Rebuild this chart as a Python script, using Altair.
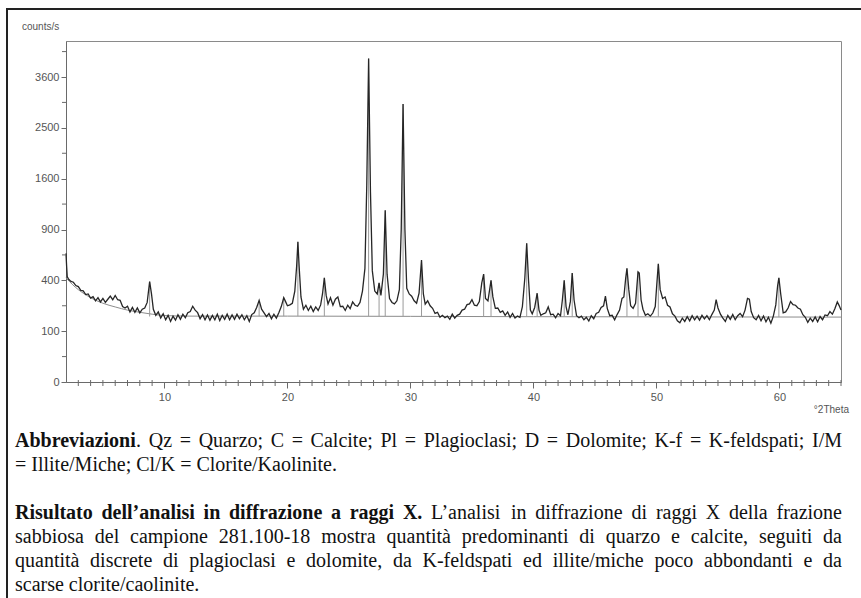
import altair as alt
import pandas as pd

# ---------------- data ----------------
two_theta = [
    2.00, 2.05, 2.10, 2.20, 2.40, 2.60, 2.80, 3.00, 3.20, 3.40,
    3.60, 3.80, 4.00, 4.20, 4.40, 4.60, 4.80, 5.00, 5.20, 5.40,
    5.60, 5.80, 6.00, 6.20, 6.40, 6.60, 6.80, 7.00, 7.20, 7.40,
    7.60, 7.80, 8.00, 8.20, 8.40, 8.60, 8.80, 8.95, 9.10, 9.30,
    9.50, 9.70, 9.90, 10.10, 10.30, 10.50, 10.70, 10.90, 11.10, 11.30,
    11.50, 11.70, 11.90, 12.10, 12.30, 12.50, 12.70, 12.90, 13.10, 13.30,
    13.50, 13.70, 13.90, 14.10, 14.30, 14.50, 14.70, 14.90, 15.10, 15.30,
    15.50, 15.70, 15.90, 16.10, 16.30, 16.50, 16.70, 16.90, 17.10, 17.30,
    17.50, 17.70, 17.90, 18.10, 18.30, 18.50, 18.70, 18.90, 19.10, 19.30,
    19.50, 19.70, 19.85, 20.00, 20.20, 20.40, 20.60, 20.75, 20.85, 20.95,
    21.10, 21.30, 21.50, 21.70, 21.90, 22.10, 22.30, 22.50, 22.70, 22.85,
    23.00, 23.15, 23.30, 23.50, 23.70, 23.90, 24.10, 24.30, 24.50, 24.70,
    24.90, 25.10, 25.30, 25.50, 25.70, 25.90, 26.10, 26.30, 26.45, 26.60,
    26.75, 26.90, 27.10, 27.30, 27.45, 27.60, 27.80, 27.95, 28.10, 28.30,
    28.50, 28.70, 28.90, 29.10, 29.25, 29.40, 29.55, 29.70, 29.90, 30.10,
    30.30, 30.50, 30.70, 30.90, 31.05, 31.20, 31.40, 31.60, 31.80, 32.00,
    32.20, 32.40, 32.60, 32.80, 33.00, 33.20, 33.40, 33.60, 33.80, 34.00,
    34.20, 34.40, 34.60, 34.80, 35.00, 35.20, 35.40, 35.60, 35.80, 35.95,
    36.10, 36.30, 36.55, 36.70, 36.90, 37.10, 37.30, 37.50, 37.70, 37.90,
    38.10, 38.30, 38.50, 38.70, 38.90, 39.10, 39.30, 39.45, 39.60, 39.75,
    39.90, 40.10, 40.30, 40.45, 40.60, 40.80, 41.00, 41.20, 41.40, 41.60,
    41.80, 42.00, 42.20, 42.35, 42.50, 42.65, 42.80, 43.00, 43.15, 43.30,
    43.50, 43.70, 43.90, 44.10, 44.30, 44.50, 44.70, 44.90, 45.10, 45.30,
    45.50, 45.70, 45.85, 46.00, 46.20, 46.40, 46.60, 46.80, 47.00, 47.20,
    47.35, 47.50, 47.60, 47.75, 47.90, 48.10, 48.30, 48.50, 48.60, 48.75,
    48.90, 49.10, 49.30, 49.50, 49.70, 49.90, 50.05, 50.15, 50.30, 50.50,
    50.70, 50.90, 51.10, 51.30, 51.50, 51.70, 51.90, 52.10, 52.30, 52.50,
    52.70, 52.90, 53.10, 53.30, 53.50, 53.70, 53.90, 54.10, 54.30, 54.50,
    54.70, 54.85, 55.00, 55.20, 55.40, 55.60, 55.80, 56.00, 56.20, 56.40,
    56.60, 56.80, 57.00, 57.20, 57.40, 57.55, 57.70, 57.90, 58.10, 58.30,
    58.50, 58.70, 58.90, 59.10, 59.30, 59.50, 59.70, 59.85, 59.95, 60.10,
    60.30, 60.50, 60.70, 60.90, 61.10, 61.30, 61.50, 61.70, 61.90, 62.10,
    62.30, 62.50, 62.70, 62.90, 63.10, 63.30, 63.50, 63.70, 63.90, 64.10,
    64.30, 64.50, 64.70, 64.85, 65.00,
]
counts = [
    640, 520, 430, 410, 392, 385, 360, 352, 325, 322,
    296, 300, 272, 282, 255, 275, 248, 270, 245, 265,
    285, 262, 290, 262, 258, 220, 212, 222, 190, 215,
    188, 212, 185, 205, 212, 245, 390, 300, 205, 172,
    190, 158, 180, 150, 172, 142, 168, 148, 175, 152,
    178, 160, 186, 192, 222, 200, 186, 155, 176, 150,
    174, 148, 172, 150, 178, 146, 172, 152, 178, 150,
    174, 152, 178, 155, 175, 150, 170, 142, 176, 185,
    215, 258, 205, 185, 165, 182, 155, 178, 158, 186,
    220, 275, 250, 225, 230, 240, 320, 520, 760, 520,
    280, 205, 228, 198, 222, 192, 218, 198, 230, 300,
    420, 290, 235, 275, 228, 265, 280, 220, 222, 198,
    228, 208, 248, 228, 222, 245, 320, 500, 1500, 4050,
    1400, 480, 320, 300, 380, 290, 450, 1140, 450, 270,
    245, 236, 255, 330, 900, 2990, 900, 340, 300, 285,
    255, 240, 305, 575, 300, 235, 255, 225, 210, 182,
    188, 162, 172, 160, 168, 152, 178, 158, 172, 178,
    200, 205, 232, 236, 262, 228, 225, 250, 380, 450,
    270, 255, 400, 280, 210, 212, 188, 196, 172, 190,
    162, 182, 158, 168, 162, 220, 420, 745, 400, 200,
    180, 215, 305, 200, 172, 180, 185, 218, 175, 178,
    160, 182, 170, 260, 400, 220, 175, 250, 460, 260,
    170, 160, 168, 150, 162, 144, 170, 155, 182, 188,
    215, 225, 285, 210, 170, 172, 150, 176, 200, 270,
    280, 420, 500, 330, 225, 210, 240, 470, 460, 260,
    205, 172, 180, 168, 184, 220, 400, 540, 330, 270,
    280, 228, 218, 180, 168, 145, 136, 158, 142, 165,
    145, 170, 150, 168, 148, 172, 154, 170, 150, 176,
    200, 262, 212, 178, 158, 142, 172, 152, 176, 150,
    170, 182, 165, 200, 270, 265, 192, 160, 150, 172,
    145, 168, 140, 162, 134, 168, 230, 360, 420, 300,
    185, 190, 212, 250, 232, 228, 212, 205, 175, 162,
    138, 158, 142, 164, 140, 166, 150, 174, 170, 192,
    178, 208, 248, 226, 200,
]
assert len(two_theta) == len(counts)

bg_theta = [2.0, 2.5, 3.0, 3.5, 4.0, 5.0, 6.0, 7.0, 8.0, 9.0, 10.0, 12.0, 20.0, 40.0, 65.0]
bg_counts = [420, 370, 330, 300, 275, 240, 218, 200, 188, 178, 171, 168, 168, 165, 163]

stick_theta = [8.80, 17.70, 19.70, 20.85, 23.00, 26.60, 27.45, 27.95, 29.40, 30.90,
               35.95, 36.55, 39.45, 40.30, 42.50, 43.15, 47.60, 48.50, 50.15, 59.95]
stick_counts = [390, 255, 275, 760, 420, 4050, 380, 1140, 2990, 575,
                450, 400, 745, 305, 400, 460, 500, 470, 540, 420]
stick_base = [166, 168, 168, 168, 168, 168, 168, 168, 168, 167,
              166, 166, 166, 166, 165, 165, 165, 165, 165, 163]

x_major = [10, 20, 30, 40, 50, 60]
x_minor = [3, 4, 5, 6, 7, 8, 9, 11, 12, 13, 14, 15, 16, 17, 18, 19, 21, 22, 23, 24, 25,
           26, 27, 28, 29, 31, 32, 33, 34, 35, 36, 37, 38, 39, 41, 42, 43, 44, 45, 46,
           47, 48, 49, 51, 52, 53, 54, 55, 56, 57, 58, 59, 61, 62, 63, 64, 65]
y_major = [0, 100, 400, 900, 1600, 2500, 3600]
y_minor = [25, 225, 625, 1225, 2025, 3025, 4225]

y_label = "counts/s"
x_label = "°2Theta"
caption = [
    ([("Abbreviazioni", True),
      (". Qz = Quarzo; C = Calcite; Pl = Plagioclasi; D = Dolomite; K-f = K-feldspati; I/M", False)], True),
    ([("= Illite/Miche; Cl/K = Clorite/Kaolinite.", False)], False),
    ([("Risultato dell’analisi in diffrazione a raggi X.", True),
      (" L’analisi in diffrazione di raggi X della frazione", False)], True),
    ([("sabbiosa del campione 281.100-18 mostra quantità predominanti di quarzo e calcite, seguiti da", False)], True),
    ([("quantità discrete di plagioclasi e dolomite, da K-feldspati ed illite/miche poco abbondanti e da", False)], True),
    ([("scarse clorite/caolinite.", False)], False),
]
caption_baselines = [447, 471, 519, 543, 567, 591]

# ---------------- layout ----------------
PL, PT, W, H = 66, 41, 775, 341
FS = 20
TXT_L, TXT_R = 15, 842


def _widths(upper, lower, extra):
    d = dict(zip("ABCDEFGHIJKLMNOPQRSTUVWXYZ", upper))
    d.update(zip("abcdefghijklmnopqrstuvwxyz", lower))
    d.update({str(k): 500 for k in range(10)})
    d.update(extra)
    return d


REG = _widths([722, 667, 667, 722, 611, 556, 722, 722, 333, 389, 722, 611, 889, 722, 722, 556, 722, 667, 556, 611, 722, 722, 944, 722, 722, 611],
              [444, 500, 444, 500, 444, 333, 500, 500, 278, 278, 500, 278, 778, 500, 500, 500, 500, 333, 389, 278, 500, 500, 722, 500, 500, 444],
              {' ': 250, ',': 250, '-': 333, '.': 250, '/': 278, ':': 278, ';': 278, '=': 564, '’': 333, 'à': 444})
BOLD = _widths([722, 667, 722, 722, 667, 611, 778, 778, 389, 500, 778, 667, 944, 722, 778, 611, 778, 722, 556, 667, 722, 722, 1000, 722, 722, 667],
               [500, 556, 444, 556, 444, 333, 500, 556, 278, 333, 556, 278, 833, 556, 500, 556, 556, 444, 389, 333, 556, 500, 722, 500, 500, 444],
               {' ': 250, ',': 250, '-': 333, '.': 250, '/': 278, ':': 333, ';': 333, '=': 570, '’': 333, 'à': 500})


def tw(s, bold):
    t = BOLD if bold else REG
    return sum(t.get(c, 500) for c in s) / 1000 * FS


rows = []
for (runs, justify), base in zip(caption, caption_baselines):
    words = [[]]
    for text, bold in runs:
        for i, p in enumerate(text.split(' ')):
            if i > 0:
                words.append([])
            if p:
                words[-1].append((p, bold))
    words = [w for w in words if w]
    wws = [sum(tw(s, b) for s, b in w) for w in words]
    if justify and len(words) > 1:
        gap = (TXT_R - TXT_L - sum(wws)) / (len(words) - 1)
    else:
        gap = 0.25 * FS
    x = TXT_L
    for w, ww in zip(words, wws):
        for s, b in w:
            rows.append(dict(px=x - PL, py=base - PT, text=s, bold=b))
            x += tw(s, b)
        x += gap
cap_df = pd.DataFrame(rows)

# ---------------- chart ----------------
xs = alt.Scale(domain=[2, 65], nice=False, zero=False)
ys = alt.Scale(type="sqrt", domain=[0, 4500], nice=False)
AX = dict(title=None, grid=False, domainColor="#6a6a6a", tickColor="#6a6a6a",
          labelColor="#555555", labelFont="Liberation Sans", labelFontSize=11, format="d")
xaxis = alt.Axis(values=x_major, tickSize=6, labelPadding=3, **AX)
yaxis = alt.Axis(values=y_major, tickSize=5, labelPadding=2, **AX)


def X(f):
    return alt.X(f, scale=xs, axis=xaxis)


def Y(f):
    return alt.Y(f, scale=ys, axis=yaxis)


trace_df = pd.DataFrame({"two_theta": two_theta, "counts": counts})
bg_df = pd.DataFrame({"two_theta": bg_theta, "counts": bg_counts})
stick_df = pd.DataFrame({"two_theta": stick_theta, "counts": stick_counts, "base": stick_base})

bg = alt.Chart(bg_df).mark_line(color="#8c8c8c", strokeWidth=1, interpolate="monotone").encode(
    x=X("two_theta:Q"), y=Y("counts:Q"))
sticks = alt.Chart(stick_df).mark_rule(color="#9a9a9a", strokeWidth=1).encode(
    x=X("two_theta:Q"), y=Y("base:Q"), y2="counts:Q")
trace = alt.Chart(trace_df).mark_line(color="#262626", strokeWidth=1.3).encode(
    x=X("two_theta:Q"), y=Y("counts:Q"))
xminor = alt.Chart(pd.DataFrame({"t": x_minor})).mark_rule(color="#6a6a6a").encode(
    x=X("t:Q"), y=alt.value(H - 2), y2=alt.value(H + 4))
yminor = alt.Chart(pd.DataFrame({"v": y_minor})).mark_rule(color="#6a6a6a").encode(
    y=Y("v:Q"), x=alt.value(-4), x2=alt.value(0))

plot = alt.layer(bg, sticks, trace, xminor, yminor)

one = pd.DataFrame({"k": [0]})
ylab = alt.Chart(pd.DataFrame({"t": [y_label]})).mark_text(
    align="left", baseline="alphabetic", font="Liberation Sans", fontSize=10, color="#555555").encode(
    x=alt.value(22 - PL), y=alt.value(30 - PT), text="t:N")
xlab = alt.Chart(pd.DataFrame({"t": [x_label]})).mark_text(
    align="right", baseline="alphabetic", font="Liberation Sans", fontSize=10, color="#555555").encode(
    x=alt.value(849 - PL), y=alt.value(413 - PT), text="t:N")
frame_left = alt.Chart(one).mark_rule(color="#222222", strokeWidth=2).encode(
    x=alt.value(7 - PL), y=alt.value(8 - PT), y2=alt.value(620))
frame_top = alt.Chart(one).mark_rule(color="#222222", strokeWidth=2).encode(
    x=alt.value(6 - PL), x2=alt.value(900), y=alt.value(9 - PT))


def cap_layer(bold):
    return alt.Chart(cap_df).transform_filter(
        alt.datum.bold == bold).mark_text(
        align="left", baseline="alphabetic", font="Liberation Serif", fontSize=FS,
        color="#111111", fontWeight="bold" if bold else "normal").encode(
        x=alt.X("px:Q", scale=None, axis=None),
        y=alt.Y("py:Q", scale=None, axis=None),
        text="text:N")


chart = alt.layer(
    plot, ylab, xlab, frame_left, frame_top, cap_layer(True), cap_layer(False)
).resolve_scale(x="independent", y="independent").properties(
    width=W, height=H, autosize="none",
    padding={"left": PL, "top": PT, "right": 861 - PL - W, "bottom": 598 - PT - H},
    background="white",
).configure_view(stroke="#8a8a8a", strokeWidth=1)

chart.save("out.html", embed_options={"renderer": "svg", "actions": False})
